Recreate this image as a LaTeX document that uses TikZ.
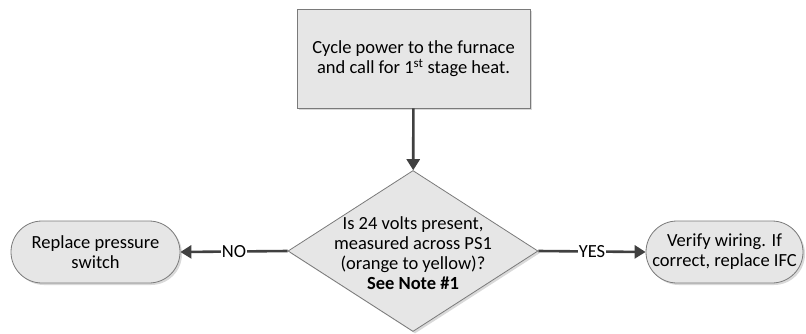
\documentclass[tikz,border=0pt]{standalone}
\usepackage{fontspec}
\setmainfont{Carlito}
\usetikzlibrary{shapes.geometric,shapes.misc,arrows.meta,shadows}
\definecolor{boxfill}{HTML}{E6E6E6}
\definecolor{boxline}{HTML}{7A7A7A}
\definecolor{arrowcol}{HTML}{404040}
\begin{document}
\begin{tikzpicture}[x=1pt,y=-1pt,
  txt/.style={align=center,font=\fontsize{18.5}{20}\selectfont,inner sep=0pt},
  base/.style={fill=boxfill,draw=boxline,line width=0.8pt,txt,
    drop shadow={shadow xshift=2pt,shadow yshift=-2pt,fill=black!25,opacity=0.6}},
  procbox/.style={base,rectangle,minimum width=233pt,minimum height=99pt},
  decbox/.style={base,diamond,minimum width=250pt,minimum height=161pt},
  termbox/.style={base,rounded rectangle,minimum height=62pt},
  conn/.style={draw=arrowcol,line width=2.6pt,-{Triangle[length=11pt,width=13pt]}},
  lbl/.style={fill=white,inner sep=1pt,font=\fontsize{18.5}{20}\selectfont}]
\useasboundingbox (0,0) rectangle (806,333);
\node[procbox] (start) at (413.5,58.5) {Cycle power to the furnace\\ and call for 1\textsuperscript{st} stage heat.};
\node[decbox] (dec) at (413,251) {};
\node[txt] (dectext) at (413,253) {Is 24 volts present,\\ measured across PS1\\ (orange to yellow)?\\ \textbf{See Note \#1}};
\node[termbox,minimum width=169pt] (no) at (95.5,252) {Replace pressure\\ switch};
\node[termbox,minimum width=157pt] (yes) at (724.5,252) {Verify wiring. If\\ correct, replace IFC};
\draw[conn] (start) -- (dec);
\draw[conn] (dec.west) -- node[lbl] {NO} (no.east);
\draw[conn] (dec.east) -- node[lbl] {YES} (yes.west);
\end{tikzpicture}
\end{document}
